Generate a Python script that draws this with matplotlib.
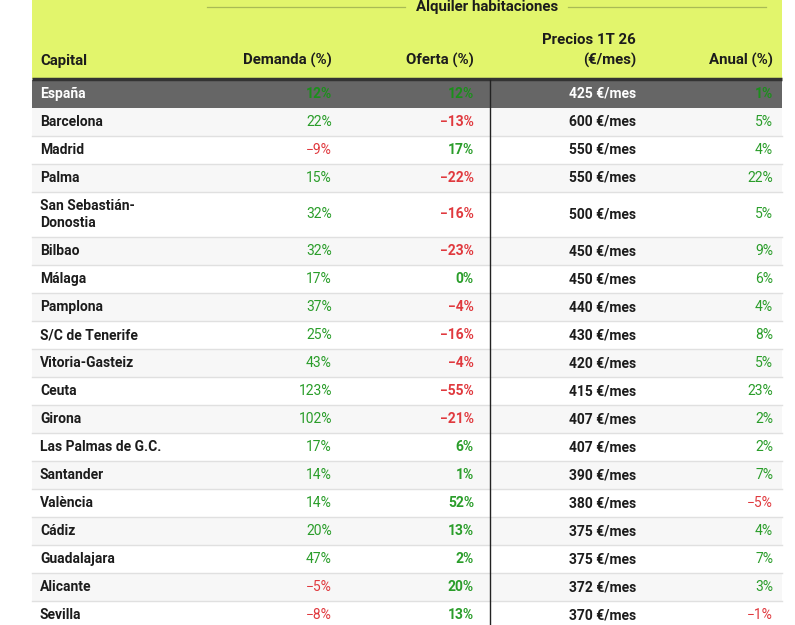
import matplotlib
matplotlib.use("Agg")
import matplotlib.pyplot as plt

plt.rcParams['font.family'] = ['Roboto', 'DejaVu Sans']

# table data
capitals = ["España", "Barcelona", "Madrid", "Palma", "San Sebastián-\nDonostia",
            "Bilbao", "Málaga", "Pamplona", "S/C de Tenerife", "Vitoria-Gasteiz",
            "Ceuta", "Girona", "Las Palmas de G.C.", "Santander", "València",
            "Cádiz", "Guadalajara", "Alicante", "Sevilla"]
demanda = [12, 22, -9, 15, 32, 32, 17, 37, 25, 43, 123, 102, 17, 14, 14, 20, 47, -5, -8]
oferta = [12, -13, 17, -22, -16, -23, 0, -4, -16, -4, -55, -21, 6, 1, 52, 13, 2, 20, 13]
precios = [425, 600, 550, 550, 500, 450, 450, 440, 430, 420, 415, 407, 407, 390, 380,
           375, 375, 372, 370]
anual = [1, 5, 4, 22, 5, 9, 6, 4, 8, 5, 23, 2, 2, 7, -5, 4, 7, 3, -1]

title = "Alquiler habitaciones"
headers = ["Capital", "Demanda (%)", "Oferta (%)", "Precios 1T 26\n(€/mes)", "Anual (%)"]

HEADER_BG = "#e2f56c"
DARK_ROW = "#666666"
GREEN = "#2a9d2a"
RED = "#e0393e"
TXT = "#1c1c1c"

W, H = 795, 625
fig = plt.figure(figsize=(W / 100, H / 100), dpi=100)
ax = fig.add_axes([0, 0, 1, 1])
ax.set_xlim(0, W)
ax.set_ylim(H, 0)
ax.axis("off")

left, right = 32, 782
col_x = [40, 332, 474, 636, 773]
col_ha = ["left", "right", "right", "right", "right"]

# header block
ax.add_patch(plt.Rectangle((left, 0), right - left, 79, color=HEADER_BG, lw=0))
ax.text(487, 7, title, ha="center", va="center", fontsize=10.8,
        fontweight="bold", color=TXT)
ax.plot([207, 405], [7, 7], color="#a9bb55", lw=0.9)
ax.plot([568, 766], [7, 7], color="#a9bb55", lw=0.9)
for i, h in enumerate(headers):
    ax.text(col_x[i], 68, h, ha=col_ha[i], va="bottom", fontsize=10.8,
            fontweight="bold", color=TXT, linespacing=1.55)
ax.plot([left, right], [79, 79], color="#333333", lw=2.5, solid_capstyle="butt")


def fmt(v):
    return ("−%d%%" % -v) if v < 0 else "%d%%" % v


def pcolor(v):
    return RED if v < 0 else GREEN


y = 80
for r, name in enumerate(capitals):
    h = 45 if "\n" in name else 28
    yc = y + h / 2
    if r == 0:
        bg = DARK_ROW
    else:
        bg = "#f7f7f7" if r % 2 == 1 else "white"
    ax.add_patch(plt.Rectangle((left, y), right - left, h, color=bg, lw=0))
    if r > 0:
        ax.plot([left, right], [y + h, y + h], color="#e0e0e0", lw=1)

    main = "white" if r == 0 else TXT
    g_first = "#1b8f1b"
    ax.text(col_x[0], yc, name, ha="left", va="center", fontsize=10,
            fontweight="bold", color=main, linespacing=1.25)
    ax.text(col_x[1], yc, fmt(demanda[r]), ha="right", va="center", fontsize=10,
            fontweight="bold" if r == 0 else "normal",
            color=g_first if r == 0 else pcolor(demanda[r]))
    ax.text(col_x[2], yc, fmt(oferta[r]), ha="right", va="center", fontsize=10,
            fontweight="bold", color=g_first if r == 0 else pcolor(oferta[r]))
    ax.text(col_x[3], yc, "%d €/mes" % precios[r], ha="right", va="center",
            fontsize=10, fontweight="bold", color=main)
    ax.text(col_x[4], yc, fmt(anual[r]), ha="right", va="center", fontsize=10,
            fontweight="bold" if r == 0 else "normal",
            color=g_first if r == 0 else pcolor(anual[r]))
    y += h

ax.plot([490, 490], [80, H], color="#222222", lw=1)

fig.savefig("out.png", dpi=100)
